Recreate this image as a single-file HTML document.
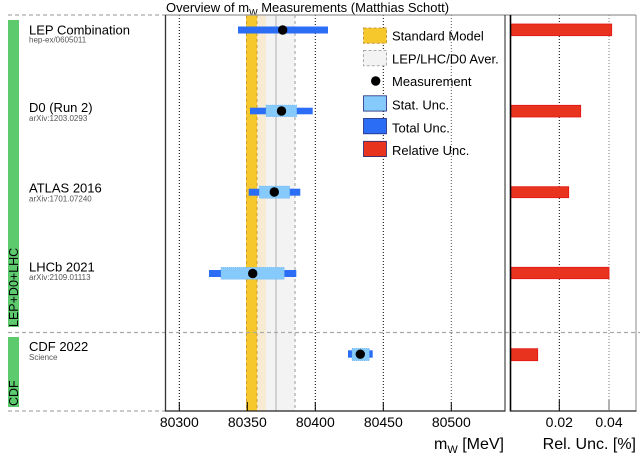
<!DOCTYPE html>
<html><head><meta charset="utf-8"><style>
html,body{margin:0;padding:0;background:#fff;}
svg{display:block;font-family:"Liberation Sans",Arial,sans-serif;}
</style></head><body>
<svg width="640" height="456" viewBox="0 0 640 456" xmlns="http://www.w3.org/2000/svg">
<rect x="0" y="0" width="640" height="456" fill="#fff"/>

<!-- title -->
<text x="166" y="12" font-size="13" fill="#000">Overview of m<tspan font-size="9" dy="3.5">W</tspan><tspan dy="-3.5"> Measurements (Matthias Schott)</tspan></text>

<!-- bands -->
<rect x="246" y="15" width="11" height="396" fill="#f6c82c"/>
<rect x="257" y="15" width="9" height="396" fill="#f7ecd3"/>
<rect x="266" y="15" width="29" height="396" fill="#f3f3f3"/>
<line x1="276" y1="15" x2="276" y2="411" stroke="#c6c6c6" stroke-width="1.5"/>
<line x1="295" y1="15" x2="295" y2="411" stroke="#aaa" stroke-width="1.2" stroke-dasharray="3,3"/>
<line x1="246.5" y1="15" x2="246.5" y2="411" stroke="#c99a3a" stroke-width="1" stroke-dasharray="3,3"/>
<line x1="257" y1="15" x2="257" y2="411" stroke="#c99a3a" stroke-width="1" stroke-dasharray="3,3"/>

<!-- grid main -->
<g stroke="#000" stroke-width="1" stroke-dasharray="1,2">
<line x1="179.3" y1="15" x2="179.3" y2="411"/>
<line x1="315.3" y1="15" x2="315.3" y2="411"/>
<line x1="383.3" y1="15" x2="383.3" y2="411"/>
<line x1="451.3" y1="15" x2="451.3" y2="411" stroke="#555"/>
</g>
<!-- grid right -->
<g stroke-width="1" stroke-dasharray="1,2">
<line x1="559.3" y1="15" x2="559.3" y2="411" stroke="#000"/>
<line x1="609" y1="15" x2="609" y2="411" stroke="#777"/>
</g>

<!-- horizontal dashed lines -->
<line x1="8" y1="15" x2="165" y2="15" stroke="#aaa" stroke-width="1.2" stroke-dasharray="4,3"/>
<line x1="165" y1="15" x2="636" y2="15" stroke="#999" stroke-width="1.2"/>
<line x1="8" y1="332.5" x2="640" y2="332.5" stroke="#aaa" stroke-width="1.2" stroke-dasharray="4,3"/>
<line x1="8" y1="411" x2="165" y2="411" stroke="#aaa" stroke-width="1.2" stroke-dasharray="4,3"/>

<!-- green group bars -->
<rect x="8" y="20" width="11" height="307" fill="#5dca6e"/>
<rect x="8" y="337" width="11" height="70" fill="#5dca6e"/>
<text transform="translate(18,327) rotate(-90)" font-size="12.5" fill="#000">LEP+D0+LHC</text>
<text transform="translate(18,406) rotate(-90)" font-size="12.5" fill="#000">CDF</text>

<!-- row labels -->
<g fill="#000" font-size="13">
<text x="29" y="34.5">LEP Combination</text>
<text x="29" y="112">D0 (Run 2)</text>
<text x="29" y="192.3">ATLAS 2016</text>
<text x="29" y="271.3">LHCb 2021</text>
<text x="29" y="351">CDF 2022</text>
</g>
<g fill="#555" font-size="8">
<text x="29" y="42.7">hep-ex/0605011</text>
<text x="29" y="121">arXiv:1203.0293</text>
<text x="29" y="201.5">arXiv:1701.07240</text>
<text x="29" y="280">arXiv:2109.01113</text>
<text x="29" y="360">Science</text>
</g>

<!-- measurements -->
<g fill="#2b6ef5">
<rect x="238" y="26.5" width="90" height="7"/>
<rect x="250" y="107.7" width="62.7" height="6.6"/>
<rect x="248.7" y="188.7" width="51.6" height="7"/>
<rect x="209" y="270" width="87.3" height="7"/>
<rect x="348" y="350.3" width="24.7" height="7.4"/>
</g>
<g fill="#86c9fb" stroke="#6fb6f0" stroke-width="0.6" stroke-dasharray="1,1">
<rect x="266" y="105" width="30.7" height="11.7"/>
<rect x="259.3" y="186" width="30.4" height="12.3"/>
<rect x="221" y="267.3" width="63.3" height="12"/>
<rect x="352" y="348.3" width="17.3" height="12.4"/>
</g>
<g fill="#000">
<circle cx="282.7" cy="30" r="4.7"/>
<circle cx="281.5" cy="111" r="4.7"/>
<circle cx="274.3" cy="192" r="4.7"/>
<circle cx="252.7" cy="273.5" r="4.7"/>
<circle cx="360.3" cy="354.2" r="4.7"/>
</g>

<!-- red bars -->
<g fill="#e8331f" stroke="#e51414" stroke-width="0.8">
<rect x="510.5" y="24" width="101.2" height="11.7"/>
<rect x="510.5" y="105.3" width="70.2" height="11.7"/>
<rect x="510.5" y="186.7" width="58.2" height="11"/>
<rect x="510.5" y="267.3" width="98.5" height="11.4"/>
<rect x="510.5" y="348.7" width="27.2" height="12"/>
</g>

<!-- legend -->
<rect x="363.5" y="28" width="23" height="15.3" fill="#f6c82c" stroke="#c99a3a" stroke-width="1" stroke-dasharray="3,2"/>
<rect x="363.5" y="50.5" width="23" height="15.3" fill="#f3f3f3" stroke="#aaa" stroke-width="1" stroke-dasharray="3,2"/>
<circle cx="375.7" cy="81" r="4.7" fill="#000"/>
<rect x="363.5" y="95.8" width="23" height="15.3" fill="#86c9fb" stroke="#1f2a7a" stroke-width="0.8"/>
<rect x="363.5" y="118.5" width="23" height="15.3" fill="#2b6ef5" stroke="#1f2a7a" stroke-width="0.8"/>
<rect x="363.5" y="141.3" width="23" height="15.3" fill="#e8331f" stroke="#1f2a7a" stroke-width="0.8"/>
<g font-size="13" fill="#000">
<text x="392" y="40.5">Standard Model</text>
<text x="392" y="63.5">LEP/LHC/D0 Aver.</text>
<text x="392" y="86">Measurement</text>
<text x="392" y="109.5">Stat. Unc.</text>
<text x="392" y="132.3">Total Unc.</text>
<text x="392" y="155">Relative Unc.</text>
</g>

<!-- frames -->
<line x1="165.5" y1="15" x2="165.5" y2="411.5" stroke="#333" stroke-width="1.3"/>
<line x1="505" y1="15" x2="505" y2="411.5" stroke="#222" stroke-width="1"/>
<line x1="165" y1="411" x2="505.5" y2="411" stroke="#222" stroke-width="1.3"/>
<line x1="510.5" y1="15" x2="510.5" y2="411.5" stroke="#000" stroke-width="1.6"/>
<line x1="636" y1="15" x2="636" y2="411.5" stroke="#888" stroke-width="1"/>
<line x1="510" y1="411" x2="636.5" y2="411" stroke="#222" stroke-width="1.3"/>

<!-- ticks -->
<g stroke="#000" stroke-width="1">
<line x1="179.3" y1="402" x2="179.3" y2="411"/>
<line x1="247.3" y1="402" x2="247.3" y2="411"/>
<line x1="315.3" y1="402" x2="315.3" y2="411"/>
<line x1="383.3" y1="402" x2="383.3" y2="411"/>
<line x1="451.3" y1="402" x2="451.3" y2="411"/>
<line x1="559.3" y1="400" x2="559.3" y2="411"/>
<line x1="609" y1="400" x2="609" y2="411" stroke="#666"/>
</g>
<g font-size="14" fill="#000" text-anchor="middle">
<text x="179.3" y="427">80300</text>
<text x="247.3" y="427">80350</text>
<text x="315.3" y="427">80400</text>
<text x="383.3" y="427">80450</text>
<text x="451.3" y="427">80500</text>
<text x="559.3" y="427">0.02</text>
<text x="609" y="427">0.04</text>
</g>
<text x="504" y="449" font-size="16" fill="#000" text-anchor="end">m<tspan font-size="11" dy="4">W</tspan><tspan dy="-4"> [MeV]</tspan></text>
<text x="636" y="449" font-size="16" fill="#000" text-anchor="end">Rel. Unc. [%]</text>
</svg>
</body></html>
